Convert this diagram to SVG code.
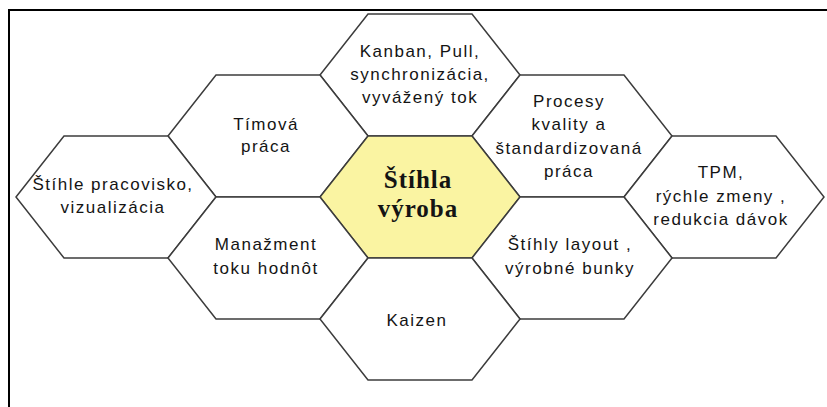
<svg xmlns="http://www.w3.org/2000/svg" width="827" height="407" viewBox="0 0 827 407">
  <style>
    .hex { fill: #ffffff; stroke: #3c3c3c; stroke-width: 1.5; stroke-linejoin: miter; }
    .core { fill: #faf4a2; }
    .t { font-family: "Liberation Sans", Arial, sans-serif; font-size: 17px; letter-spacing: 1.5px; fill: #141414; text-anchor: middle; }
    .big { font-family: "Liberation Serif", "Times New Roman", serif; font-size: 25px; font-weight: bold; letter-spacing: 1px; fill: #141414; text-anchor: middle; }
    .frame { fill: none; stroke: #000000; stroke-width: 2; }
  </style>
  <rect width="827" height="407" fill="#ffffff"/>
  <path class="frame" d="M9,407 V10 H827"/>
  <g id="connectors"/>

  <g id="kanban" transform="translate(420,75)">
    <polygon class="hex" points="-100,0 -52,-61 52,-61 100,0 52,61 -52,61"/>
    <text class="t" x="0" y="-18">Kanban, Pull,</text>
    <text class="t" x="0" y="5">synchronizácia,</text>
    <text class="t" x="0" y="28">vyvážený tok</text>
  </g>

  <g id="timova" transform="translate(268,136)">
    <polygon class="hex" points="-100,0 -52,-61 52,-61 100,0 52,61 -52,61"/>
    <text class="t" x="-2" y="-6">Tímová</text>
    <text class="t" x="-2" y="16">práca</text>
  </g>

  <g id="procesy" transform="translate(572,136)">
    <polygon class="hex" points="-100,0 -52,-61 52,-61 100,0 52,61 -52,61"/>
    <text class="t" x="-3" y="-29">Procesy</text>
    <text class="t" x="-3" y="-6">kvality a</text>
    <text class="t" x="-3" y="18">štandardizovaná</text>
    <text class="t" x="-3" y="41">práca</text>
  </g>

  <g id="pracovisko" transform="translate(116,197)">
    <polygon class="hex" points="-100,0 -52,-61 52,-61 100,0 52,61 -52,61"/>
    <text class="t" x="-3" y="-7">Štíhle pracovisko,</text>
    <text class="t" x="-3" y="16">vizualizácia</text>
  </g>

  <g id="stihla-vyroba" transform="translate(420,197)">
    <polygon class="hex core" points="-100,0 -52,-61 52,-61 100,0 52,61 -52,61"/>
    <text class="big" x="-2" y="-9">Štíhla</text>
    <text class="big" x="-2" y="20">výroba</text>
  </g>

  <g id="tpm" transform="translate(724,197)">
    <polygon class="hex" points="-100,0 -52,-61 52,-61 100,0 52,61 -52,61"/>
    <text class="t" x="-3" y="-19">TPM,</text>
    <text class="t" x="-3" y="5">rýchle zmeny ,</text>
    <text class="t" x="-3" y="28">redukcia dávok</text>
  </g>

  <g id="manazment" transform="translate(268,258)">
    <polygon class="hex" points="-100,0 -52,-61 52,-61 100,0 52,61 -52,61"/>
    <text class="t" x="-2" y="-8">Manažment</text>
    <text class="t" x="-2" y="16">toku hodnôt</text>
  </g>

  <g id="layout" transform="translate(572,258)">
    <polygon class="hex" points="-100,0 -52,-61 52,-61 100,0 52,61 -52,61"/>
    <text class="t" x="-2" y="-8">Štíhly layout ,</text>
    <text class="t" x="-2" y="16">výrobné bunky</text>
  </g>

  <g id="kaizen" transform="translate(420,319)">
    <polygon class="hex" points="-100,0 -52,-61 52,-61 100,0 52,61 -52,61"/>
    <text class="t" x="-3" y="7">Kaizen</text>
  </g>
</svg>
